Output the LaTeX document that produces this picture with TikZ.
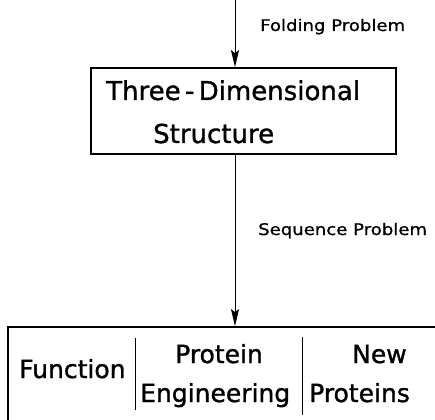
\documentclass[tikz,border=0pt]{standalone}
\usepackage{fontspec}
\setmainfont{DejaVu Sans}
\newfontfamily\boxfont[FakeBold=1.2]{DejaVu Sans}
\newfontfamily\labelfont[FakeStretch=1.13,FakeBold=1]{DejaVu Sans}
\usetikzlibrary{arrows.meta}

\begin{document}
\begin{tikzpicture}[x=1pt,y=-1pt,
  >={Stealth[length=17pt,width=8pt,inset=3pt]},
  box/.style={draw,line width=1.8pt,inner sep=0pt},
  big/.style={anchor=base west,inner sep=0pt,font=\boxfont\fontsize{26}{26}\selectfont},
  mid/.style={anchor=base west,inner sep=0pt,font=\boxfont\fontsize{25}{25}\selectfont},
  tag/.style={anchor=base west,inner sep=0pt,font=\labelfont\fontsize{16}{16}\selectfont}]
\clip (0,0) rectangle (435,419);
\def\pfeil#1#2{\draw[->,line width=0.9pt] (#1) -- (#2);}

% the two boxes
\node[box,minimum width=305,minimum height=86] at (243.5,111) (struct) {};
\node[box,minimum width=452,minimum height=113] at (234,383.5) (tasks) {};
\coordinate (top) at (235,0);

\node[big] at (106,100) (three) {Three\,-\,Dimensional};
\node[big] at (153,143) (structure) {Structure};

% bottom row, split in three
\draw[line width=0.9pt] (135,338) -- (135,410);
\draw[line width=0.9pt] (302,337) -- (302,415);
\node[mid] at (19,378) (function) {Function};
\node[mid] at (175,363) (protein) {Protein};
\node[mid] at (140,402) (engineering) {Engineering};
\node[mid] at (352,363) (new) {New};
\node[mid] at (309,402) (proteins) {Proteins};

% arrows and their labels
\pfeil{top}{top |- struct.north}
\pfeil{top |- struct.south}{top |- tasks.north}
\node[tag] at (260,31) (folding) {Folding Problem};
\node[tag] at (258,235) (sequence) {Sequence Problem};
\end{tikzpicture}
\end{document}
